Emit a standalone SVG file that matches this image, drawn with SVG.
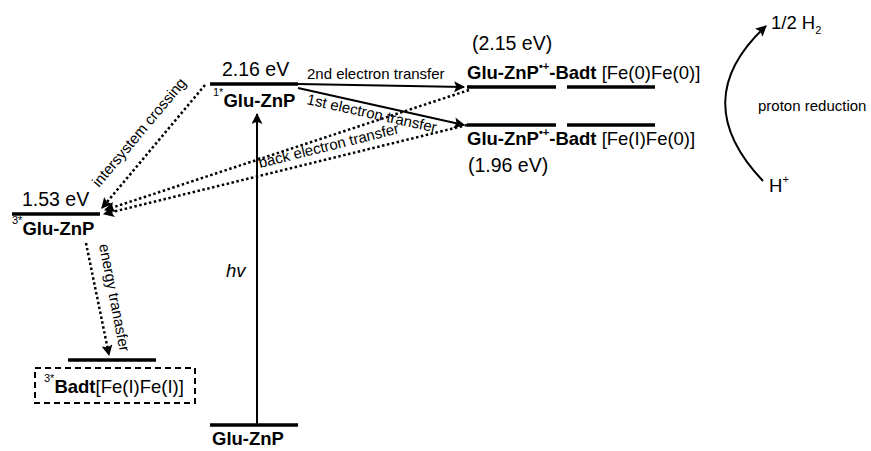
<svg xmlns="http://www.w3.org/2000/svg" width="871" height="451" viewBox="0 0 871 451">
<defs>
<marker id="ah" viewBox="0 0 10 10" refX="9" refY="5" markerWidth="18" markerHeight="11" markerUnits="userSpaceOnUse" orient="auto">
<path d="M0,0 L10,5 L0,10 L2,5 z" fill="#000"/>
</marker>
<style>
text{font-family:"Liberation Sans",Arial,sans-serif;fill:#000}
.lvl{stroke:#000;stroke-width:3.5}
.b{font-weight:bold}
.e{font-size:19.5px}
.n{font-size:18.5px}
.s{font-size:15px}
.sup{font-size:11px}
.dot{stroke:#000;stroke-width:2.5;stroke-dasharray:2.5 2.5;fill:none}
.sol{stroke:#000;stroke-width:2;fill:none}
</style>
</defs>
<rect width="871" height="451" fill="#fff"/>

<g id="triplet">
<line class="lvl" x1="12" y1="214" x2="100" y2="214"/>
<text class="e" x="22" y="206">1.53 eV</text>
<text x="12" y="235"><tspan class="sup" dy="-11">3*</tspan><tspan class="n b" dy="11">Glu-ZnP</tspan></text>
</g>

<g id="singlet">
<line class="lvl" x1="210" y1="84" x2="298" y2="84"/>
<text class="e" x="222" y="76">2.16 eV</text>
<text x="213" y="107"><tspan class="sup" dy="-11">1*</tspan><tspan class="n b" dy="11">Glu-ZnP</tspan></text>
</g>

<g id="ground">
<line class="lvl" x1="210" y1="425" x2="298" y2="425"/>
<text class="n b" x="212" y="445">Glu-ZnP</text>
</g>

<g id="cs2">
<line class="lvl" x1="467" y1="87" x2="556" y2="87"/>
<line class="lvl" x1="567" y1="87" x2="655" y2="87"/>
<text class="e" x="472" y="50">(2.15 eV)</text>
<text x="467" y="79"><tspan class="n b">Glu-ZnP</tspan><tspan class="sup b" dy="-9">•+</tspan><tspan class="n b" dy="9">-Badt</tspan><tspan class="n"> [Fe(0)Fe(0)]</tspan></text>
</g>

<g id="cs1">
<line class="lvl" x1="467" y1="125" x2="556" y2="125"/>
<line class="lvl" x1="567" y1="125" x2="655" y2="125"/>
<text x="467" y="145"><tspan class="n b">Glu-ZnP</tspan><tspan class="sup b" dy="-9">•+</tspan><tspan class="n b" dy="9">-Badt</tspan><tspan class="n"> [Fe(I)Fe(0)]</tspan></text>
<text class="e" x="468" y="172">(1.96 eV)</text>
</g>

<g id="badt">
<line class="lvl" x1="68" y1="360" x2="156" y2="360"/>
<rect x="35" y="368" width="160" height="35" fill="none" stroke="#000" stroke-width="2" stroke-dasharray="6 4"/>
<text x="44" y="393"><tspan class="sup" dy="-11">3*</tspan><tspan class="n b" dy="11">Badt</tspan><tspan class="n">[Fe(I)Fe(I)]</tspan></text>
</g>

<g id="proton">
<path class="sol" d="M763,181 Q686,100 766,26" stroke-width="2.5" marker-end="url(#ah)"/>
<text class="n" x="771" y="29">1/2 H<tspan class="sup" dy="5">2</tspan></text>
<text class="s" x="758" y="111">proton reduction</text>
<text class="n" x="769" y="192">H<tspan class="sup" dy="-9">+</tspan></text>
</g>

<g id="connectors">
<line class="sol" x1="257" y1="425" x2="257" y2="114" marker-end="url(#ah)"/>
<text x="226" y="277" font-size="18.5" font-style="italic">hv</text>

<line class="sol" x1="298" y1="84" x2="464" y2="87" marker-end="url(#ah)"/>
<text class="s" x="307" y="79">2nd electron transfer</text>

<line class="sol" x1="298" y1="88" x2="464" y2="125" marker-end="url(#ah)"/>
<text class="s" x="306" y="104" transform="rotate(12.5 306 104)">1st electron transfer</text>

<line class="dot" x1="205" y1="85" x2="102" y2="208" marker-end="url(#ah)"/>
<text class="s" x="99" y="188" transform="rotate(-50 99 188)">intersystem crossing</text>

<line class="dot" x1="469" y1="90" x2="105" y2="210" marker-end="url(#ah)"/>
<line class="dot" x1="467" y1="125" x2="104" y2="214" marker-end="url(#ah)"/>
<text class="s" x="260" y="168" transform="rotate(-14 260 168)">back electron transfer</text>

<line class="dot" x1="86" y1="243" x2="109" y2="355" marker-end="url(#ah)"/>
<text class="s" x="99" y="245" transform="rotate(79 99 245)">energy tranasfer</text>
</g>
</svg>
